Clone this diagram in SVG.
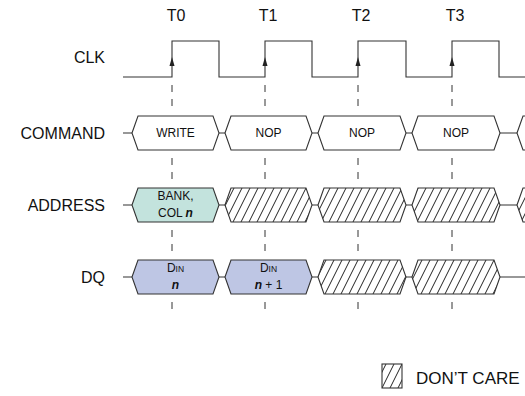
<svg xmlns="http://www.w3.org/2000/svg" width="525" height="396" viewBox="0 0 525 396">
<defs>
<pattern id="hatch" patternUnits="userSpaceOnUse" width="8" height="16">
<rect width="8" height="16" fill="#fff"/>
<path d="M-4,8 L4,-8 M0,16 L8,0 M4,24 L12,8" stroke="#222" stroke-width="1"/>
</pattern>
<style>
text{font-family:"Liberation Sans",Arial,sans-serif;fill:#111}
.lbl{font-size:16px;text-anchor:end}
.t{font-size:16px;text-anchor:middle}
.in{font-size:12px;text-anchor:middle}
.sm{font-size:8.5px}
.hx{stroke:#333;stroke-width:1.1}
.w{fill:#fff}
.h{fill:url(#hatch)}
.teal{fill:#c3e3dd}
.lav{fill:#bec6e4}
.ln{stroke:#333;stroke-width:1.1;fill:none}
.dash{stroke:#333;stroke-width:1;stroke-dasharray:7 7}
</style>
</defs>

<g id="time-labels">
<text class="t" x="176" y="21">T0</text>
<text class="t" x="268" y="21">T1</text>
<text class="t" x="361" y="21">T2</text>
<text class="t" x="455" y="21">T3</text>
</g>

<g id="row-labels">
<text class="lbl" x="105" y="63">CLK</text>
<text class="lbl" x="105" y="139">COMMAND</text>
<text class="lbl" x="105" y="211">ADDRESS</text>
<text class="lbl" x="105" y="283">DQ</text>
</g>

<g id="connectors">
<path id="clk" class="ln" d="M123,77 H172 V41 H219 V77 H265 V41 H312 V77 H358 V41 H406 V77 H452 V41 H499 V77 H525"/>
<g id="clk-arrows" fill="#222">
<path d="M172,57 L169.5,66 L174.5,66 Z"/>
<path d="M265,57 L262.5,66 L267.5,66 Z"/>
<path d="M358,57 L355.5,66 L360.5,66 Z"/>
<path d="M452,57 L449.5,66 L454.5,66 Z"/>
</g>
<g id="dashes">
<path class="dash" d="M172,85 V107 M265,85 V107 M358,85 V107 M452,85 V107"/>
<path class="dash" d="M172,158 V179 M265,158 V179 M358,158 V179 M452,158 V179"/>
<path class="dash" d="M172,230 V251 M265,230 V251 M358,230 V251 M452,230 V251"/>
<path class="dash" d="M172,302 V309 M265,302 V309 M358,302 V309 M452,302 V309"/>
</g>
<path class="ln" d="M123,133 H132 M219,133 H225 M312,133 H318 M406,133 H412 M500,133 H517"/>
<path class="ln" d="M123,205 H132 M219,205 H225 M312,205 H318 M406,205 H412 M500,205 H517"/>
<path class="ln" d="M123,277 H132 M219,277 H225 M312,277 H318 M406,277 H412 M500,277 H525"/>
</g>

<g id="cmd-write">
<path class="hx w" d="M132,133 L138,116 H213 L219,133 L213,150 H138 Z"/>
<text class="in" x="175.5" y="137">WRITE</text>
</g>
<g id="cmd-nop1">
<path class="hx w" d="M225,133 L231,116 H306 L312,133 L306,150 H231 Z"/>
<text class="in" x="268.5" y="137">NOP</text>
</g>
<g id="cmd-nop2">
<path class="hx w" d="M318,133 L324,116 H400 L406,133 L400,150 H324 Z"/>
<text class="in" x="362" y="137">NOP</text>
</g>
<g id="cmd-nop3">
<path class="hx w" d="M412,133 L418,116 H494 L500,133 L494,150 H418 Z"/>
<text class="in" x="456" y="137">NOP</text>
</g>
<g id="cmd-next">
<path class="hx w" d="M517,133 L523,116 H600 L606,133 L600,150 H523 Z"/>
</g>

<g id="addr-bank">
<path class="hx teal" d="M132,205 L138,188 H213 L219,205 L213,222 H138 Z"/>
<text class="in" x="175.5" y="200">BANK,</text>
<text class="in" x="175.5" y="217">COL <tspan font-style="italic" font-weight="bold">n</tspan></text>
</g>
<g id="addr-x1"><path class="hx h" d="M225,205 L231,188 H306 L312,205 L306,222 H231 Z"/></g>
<g id="addr-x2"><path class="hx h" d="M318,205 L324,188 H400 L406,205 L400,222 H324 Z"/></g>
<g id="addr-x3"><path class="hx h" d="M412,205 L418,188 H494 L500,205 L494,222 H418 Z"/></g>
<g id="addr-x4"><path class="hx h" d="M517,205 L523,188 H600 L606,205 L600,222 H523 Z"/></g>

<g id="dq-din-n">
<path class="hx lav" d="M132,277 L138,260 H213 L219,277 L213,294 H138 Z"/>
<text class="in" x="175.5" y="272">D<tspan class="sm">IN</tspan></text>
<text class="in" x="175.5" y="289" font-style="italic" font-weight="bold">n</text>
</g>
<g id="dq-din-n1">
<path class="hx lav" d="M225,277 L231,260 H306 L312,277 L306,294 H231 Z"/>
<text class="in" x="268.5" y="272">D<tspan class="sm">IN</tspan></text>
<text class="in" x="268.5" y="289"><tspan font-style="italic" font-weight="bold">n</tspan> + 1</text>
</g>
<g id="dq-x1"><path class="hx h" d="M318,277 L324,260 H400 L406,277 L400,294 H324 Z"/></g>
<g id="dq-x2"><path class="hx h" d="M412,277 L418,260 H494 L500,277 L494,294 H418 Z"/></g>

<g id="legend">
<rect class="hx h" x="382" y="364" width="20" height="24"/>
<text x="416" y="384" font-size="17">DON’T CARE</text>
</g>
</svg>
